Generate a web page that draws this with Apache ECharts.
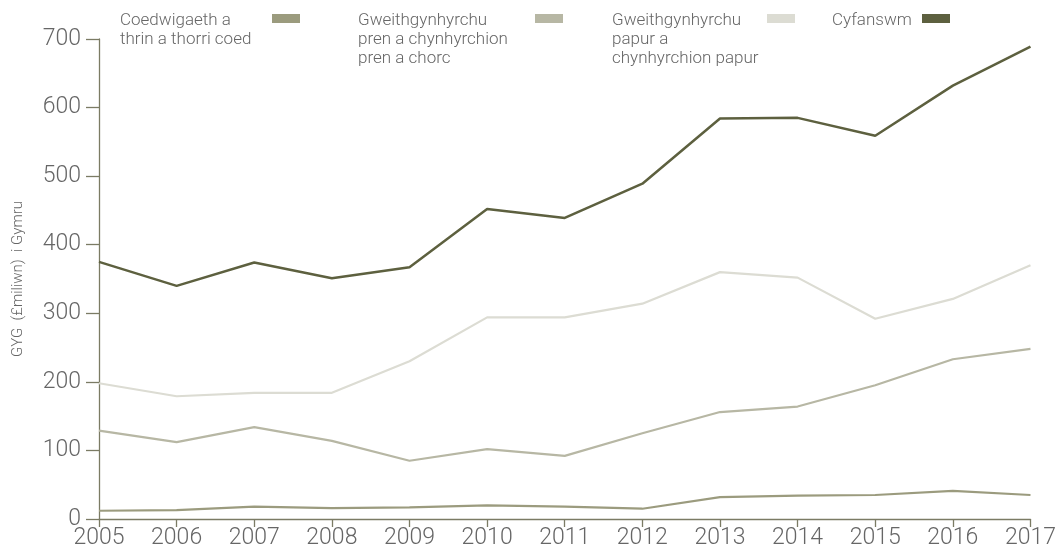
<!DOCTYPE html>
<html>
<head>
<meta charset="utf-8">
<script src="https://cdn.jsdelivr.net/npm/echarts@6/dist/echarts.min.js"></script>
<style>html,body{margin:0;padding:0;background:#fff}#c{width:1059px;height:553px}</style>
</head>
<body>
<div id="c"></div>
<script>
const years = ['2005','2006','2007','2008','2009','2010','2011','2012','2013','2014','2015','2016','2017'];
const forestry = [12, 13, 18, 16, 17, 20, 18, 15, 32, 34, 35, 41, 35];
const woodProducts = [129, 112, 134, 114, 85, 102, 92, 125, 156, 164, 195, 233, 248];
const paperProducts = [198, 179, 184, 184, 230, 294, 294, 314, 360, 352, 292, 321, 370];
const total = [375, 340, 374, 351, 367, 452, 439, 489, 584, 585, 559, 632, 689];
const seriesNames = ['Coedwigaeth a\nthrin a thorri coed', 'Gweithgynhyrchu\npren a chynhyrchion\npren a chorc', 'Gweithgynhyrchu\npapur a\nchynhyrchion papur', 'Cyfanswm'];
const yAxisTitle = 'GYG  (£miliwn)  i Gymru';

const colors = ['#9b9b7e', '#b7b7a4', '#dcdcd3', '#5d603f'];
const widths = [2.2, 2.2, 2.2, 2.5];
const font = 'Roboto, "Liberation Sans", sans-serif';
const txt = '#666666';
const axisCol = '#7b7b64';

const chart = echarts.init(document.getElementById('c'));
const data = [forestry, woodProducts, paperProducts, total];

const legPos = [
  {tx: 120, sx: 272},
  {tx: 358, sx: 535},
  {tx: 612, sx: 767},
  {tx: 832, sx: 922}
];
const graphics = [];
seriesNames.forEach((n, i) => {
  graphics.push({type: 'text', left: legPos[i].tx, top: 11,
    style: {text: n, font: '300 17px ' + font, fill: txt, lineHeight: 19}});
  graphics.push({type: 'rect', left: legPos[i].sx, top: 14,
    shape: {width: 28, height: 9}, style: {fill: colors[i]}});
});

chart.setOption({
  animation: false,
  grid: {left: 99, right: 23, top: 39, bottom: 34, containLabel: false},
  graphic: graphics,
  xAxis: {
    type: 'category', data: years, boundaryGap: false,
    axisLine: {lineStyle: {color: axisCol, width: 1.3}},
    axisTick: {length: 8, lineStyle: {color: axisCol, width: 1.3}},
    axisLabel: {color: txt, fontSize: 23, fontFamily: font, fontWeight: 300, margin: 8}
  },
  yAxis: {
    type: 'value', min: 0, max: 700, interval: 100,
    name: yAxisTitle, nameLocation: 'middle', nameGap: 73, nameRotate: 90,
    nameTextStyle: {color: txt, fontSize: 15, fontFamily: font, fontWeight: 300},
    axisLine: {show: true, lineStyle: {color: axisCol, width: 1.3}},
    axisTick: {show: true, length: 13, lineStyle: {color: axisCol, width: 1.3}},
    splitLine: {show: false},
    axisLabel: {color: txt, fontSize: 23, fontFamily: font, fontWeight: 300, margin: 18}
  },
  series: seriesNames.map((n, i) => ({
    name: n, type: 'line', data: data[i], symbol: 'none',
    lineStyle: {color: colors[i], width: widths[i]}, itemStyle: {color: colors[i]}, z: 2 + i
  }))
});
</script>
</body>
</html>
